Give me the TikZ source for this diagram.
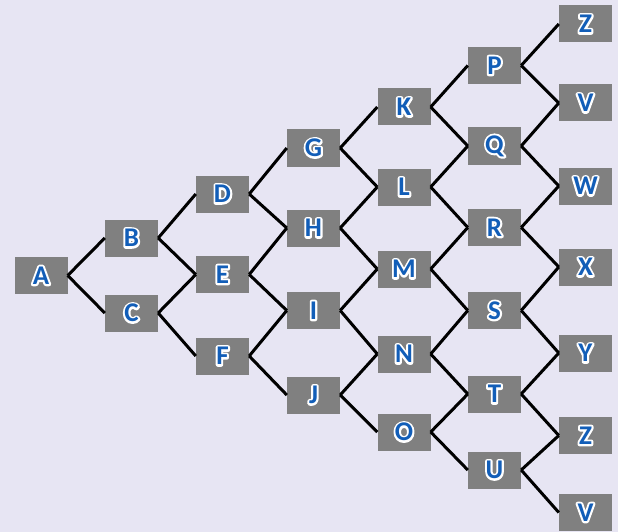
\documentclass[tikz,border=0pt]{standalone}
\usepackage{fontspec}
\setmainfont{Carlito}
\definecolor{bgc}{HTML}{E7E5F3}
\definecolor{boxc}{HTML}{808080}
\definecolor{txtc}{RGB}{18,94,184}
\newcommand\oltext[1]{\leavevmode
 \rlap{\textcolor{white}{\special{pdf:code 1 Tr 4 w 1 j 1 1 1 RG}#1\special{pdf:code 0 Tr 0.4 w 0 j}}}%
 \textcolor{txtc}{#1}}
\tikzset{
  lbox/.style={fill=boxc, minimum width=53pt, minimum height=37pt, inner sep=0pt,
    font=\fontsize{27}{27}\selectfont\bfseries},
  link/.style={line width=3pt, black}
}
\begin{document}
\begin{tikzpicture}[x=1pt,y=-1pt]
\fill[bgc] (0,0) rectangle (618,532);
\useasboundingbox (0,0) rectangle (618,532);
\node[lbox] (A) at (41,275.5) {\oltext{A}};
\node[lbox] (B) at (131.5,238) {\oltext{B}};
\node[lbox] (C) at (131.5,313) {\oltext{C}};
\node[lbox] (D) at (222.5,194) {\oltext{D}};
\node[lbox] (E) at (222.5,274.5) {\oltext{E}};
\node[lbox] (F) at (222.5,356) {\oltext{F}};
\node[lbox] (G) at (313.5,148) {\oltext{G}};
\node[lbox] (H) at (313.5,228) {\oltext{H}};
\node[lbox] (I) at (313.5,310.5) {\oltext{I}};
\node[lbox] (J) at (313.5,395) {\oltext{J}};
\node[lbox] (K) at (404,107) {\oltext{K}};
\node[lbox] (L) at (404,187) {\oltext{L}};
\node[lbox] (M) at (404,269) {\oltext{M}};
\node[lbox] (N) at (404,354) {\oltext{N}};
\node[lbox] (O) at (404,432) {\oltext{O}};
\node[lbox] (P) at (494.5,65.5) {\oltext{P}};
\node[lbox] (Q) at (494.5,146) {\oltext{Q}};
\node[lbox] (R) at (494.5,227.5) {\oltext{R}};
\node[lbox] (S) at (494.5,310.5) {\oltext{S}};
\node[lbox] (T) at (494.5,394) {\oltext{T}};
\node[lbox] (U) at (494.5,470) {\oltext{U}};
\node[lbox] (Z1) at (585.5,24) {\oltext{Z}};
\node[lbox] (V1) at (585.5,103) {\oltext{V}};
\node[lbox] (W) at (585.5,186) {\oltext{W}};
\node[lbox] (X) at (585.5,267) {\oltext{X}};
\node[lbox] (Y) at (585.5,353) {\oltext{Y}};
\node[lbox] (Z2) at (585.5,435.5) {\oltext{Z}};
\node[lbox] (V2) at (585.5,512.5) {\oltext{V}};
\foreach \s/\t in {A/B,A/C,B/D,B/E,C/E,C/F,D/G,D/H,E/H,E/I,F/I,F/J,
  G/K,G/L,H/L,H/M,I/M,I/N,J/N,J/O,K/P,K/Q,L/Q,L/R,M/R,M/S,N/S,N/T,O/T,O/U,
  P/Z1,P/V1,Q/V1,Q/W,R/W,R/X,S/X,S/Y,T/Y,T/Z2,U/Z2,U/V2}
  \draw[link] (\s.east) -- (\t.west);
\end{tikzpicture}
\end{document}
